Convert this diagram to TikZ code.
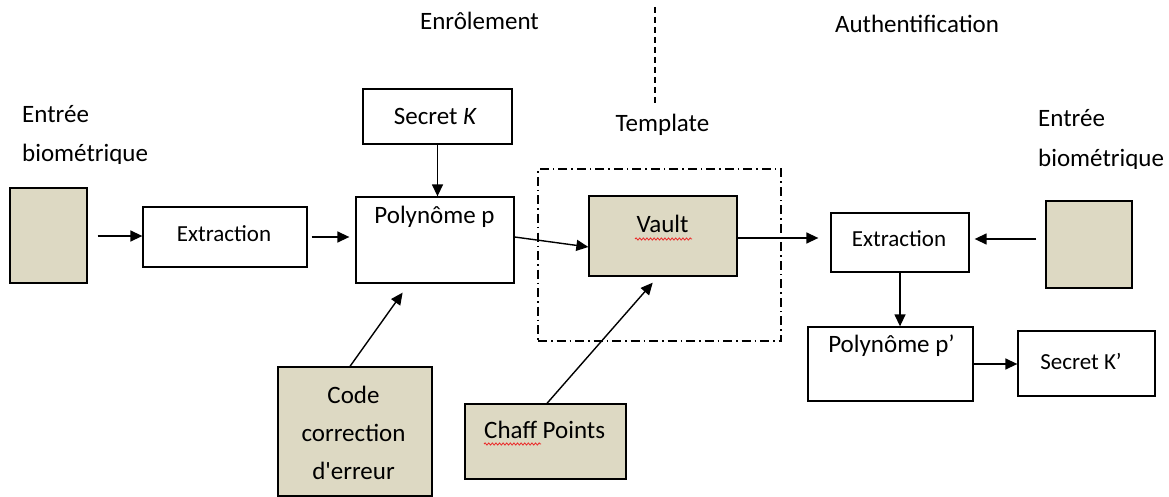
\documentclass[tikz,border=0pt]{standalone}
\usepackage{fontspec}
\setmainfont{Carlito}[Ligatures=TeXOff]
\usetikzlibrary{arrows.meta,decorations.pathmorphing}
\definecolor{tan}{RGB}{221,217,195}
\definecolor{spell}{RGB}{235,40,40}
\tikzset{
  box/.style={draw=black, line width=1.3pt, inner sep=0pt, fill=white},
  tanbox/.style={box, fill=tan},
  lbl/.style={inner sep=0pt, anchor=base, font=\fontsize{25}{30}\selectfont},
  slbl/.style={lbl, font=\fontsize{23}{28}\selectfont},
  arr/.style={line width=1.4pt, -{Triangle[length=12pt,width=11pt]}},
  frame/.style={draw=black, line width=1.2pt, inner sep=0pt,
    dash pattern=on 9pt off 4pt on 1.5pt off 4pt},
  divider/.style={line width=1.1pt, dash pattern=on 6pt off 4pt},
  squiggle/.style={draw=spell, line width=0.8pt,
    decorate, decoration={snake, amplitude=1.1pt, segment length=3.6pt}}
}
\begin{document}
\begin{tikzpicture}[x=1pt, y=-1pt]
\useasboundingbox (0,0) rectangle (1169,497);

% phase headings and divider
\node[lbl] (enrol) at (479.5,30) {Enrôlement};
\node[lbl] (auth) at (917,33) {Authentification};
\coordinate (divtop) at (655,7);
\coordinate (divbot) at (655,105);
\draw[divider] (divtop) -- (divbot);

% template frame
\node[frame, minimum width=243pt, minimum height=172pt] (tmpl) at (659.5,255) {};
\node[lbl] (tmplt) at (662.5,132) {Template};

% enrolment side
\node[lbl, anchor=base west] (inLa) at (22,123) {Entrée};
\begin{scope}
  \clip (0,0) rectangle (400,164);
  \node[lbl, anchor=base west] (inLb) at (22,162) {biométrique};
\end{scope}
\node[tanbox, minimum width=77pt, minimum height=95pt] (inL) at (48.5,235.5) {};

\node[box, minimum width=164pt, minimum height=60pt] (ext1) at (225,237) {};
\node[slbl] (ext1t) at (224,241) {Extraction};

\node[box, minimum width=149pt, minimum height=55pt] (secK) at (437.5,116.5) {};
\node[lbl] (secKt) at (435.5,125) {Secret \textit{K}};

\node[box, minimum width=158pt, minimum height=86pt] (poly) at (435,240) {};
\node[lbl] (polyt) at (434.5,223) {Polynôme p};

\node[tanbox, minimum width=148pt, minimum height=80pt] (vault) at (663,236) {};
\node[lbl] (vaultt) at (662.5,232) {Vault};

\node[tanbox, minimum width=154pt, minimum height=129pt] (code) at (355,431.5) {};
\node[lbl] (codea) at (353.5,403) {Code};
\node[lbl] (codeb) at (353.5,441) {correction};
\node[lbl] (codec) at (353.5,479) {d'erreur};

\node[tanbox, minimum width=161pt, minimum height=75pt] (chaff) at (545.5,441.5) {};
\node[lbl] (chafft) at (544.7,438) {Chaff Points};

% authentication side
\node[lbl, anchor=base west] (inRa) at (1038,127) {Entrée};
\begin{scope}
  \clip (900,0) rectangle (1169,169);
  \node[lbl, anchor=base west] (inRb) at (1038,167) {biométrique};
\end{scope}
\node[tanbox, minimum width=86pt, minimum height=87pt] (inR) at (1089,244.5) {};

\node[box, minimum width=138pt, minimum height=59pt] (ext2) at (900,242.5) {};
\node[slbl] (ext2t) at (899,246) {Extraction};

\node[box, minimum width=165pt, minimum height=74pt] (polyp) at (890.5,364) {};
\node[lbl] (polypt) at (891.5,352) {Polynôme p’};

\node[box, minimum width=137pt, minimum height=65pt] (secK2) at (1086.5,363.5) {};
\node[slbl] (secK2t) at (1081,369) {Secret K’};

% spelling marks under the flagged words
\draw[squiggle] (635,239) -- (692,239);
\draw[squiggle] (484,444) -- (541,444);

% connectors
\draw[arr, shorten <=10pt] ([yshift=-0.5pt]inL.east) -- ([yshift=-0.5pt]inL.east -| ext1.west);
\draw[arr, shorten <=4pt, shorten >=6pt] (ext1.east) -- (ext1.east -| poly.west);
\draw[arr] (secK.south) -- (secK.south |- poly.north);
\draw[arr] ([yshift=3pt]poly.east) -- ([yshift=-11pt]vault.west);
\draw[arr, shorten >=12pt] ([yshift=-2pt]vault.east) -- ([yshift=-2pt]vault.east -| ext2.west);
\draw[arr, shorten <=9pt, shorten >=5pt] ([yshift=5.5pt]inR.west) -- ([yshift=5.5pt]inR.west -| ext2.east);
\draw[arr] (ext2.south) -- (ext2.south |- polyp.north);
\draw[arr] (polyp.east) -- (polyp.east -| secK2.west);
\draw[arr, shorten >=11pt] ([xshift=-5pt]code.north) -- ([xshift=-26pt]poly.south);
\draw[arr, shorten >=8pt] ([xshift=1.5pt]chaff.north) -- ([xshift=-5pt]vault.south);
\end{tikzpicture}
\end{document}
